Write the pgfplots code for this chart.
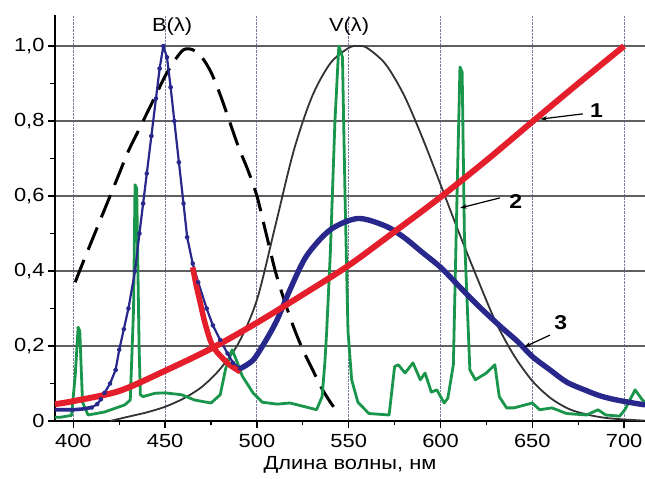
\documentclass[border=0pt]{standalone}
\usepackage{fontspec}
\setmainfont{Liberation Sans}[FakeStretch=1.15]
\usepackage{pgfplots}
\pgfplotsset{compat=1.18}
\usetikzlibrary{calc,arrows.meta}
\definecolor{cred}{RGB}{228,30,42}
\definecolor{cblue}{RGB}{40,40,140}
\definecolor{cgreen}{RGB}{25,150,75}
\definecolor{cgridv}{RGB}{120,125,160}
\definecolor{cgridh}{RGB}{95,95,95}
\begin{document}
\begin{tikzpicture}
\begin{axis}[
  scale only axis, width=590pt, height=406pt,
  xmin=390, xmax=711.4, ymin=0, ymax=1.0827,
  axis x line=bottom, axis y line=left,
  axis line style={-, line width=1.8pt, black},
  xtick={400,450,...,700},
  ytick={0,0.2,0.4,0.6,0.8,1.0},
  yticklabels={0,{0,2},{0,4},{0,6},{0,8},{1,0}},
  minor x tick num=1, minor y tick num=1,
  tick align=outside,
  major tick length=7pt, minor tick length=4.5pt,
  every tick/.style={black, line width=1.3pt},
  /pgf/number format/assume math mode=true,
  /pgf/number format/1000 sep={},
  tick label style={font=\fontsize{19}{22}\selectfont},
  xticklabel style={yshift=-3pt},
  xmajorgrids, ymajorgrids,
  x grid style={cgridv, densely dotted, line width=1pt},
  y grid style={cgridh, line width=1.1pt},
  xlabel={Длина волны, нм},
  xlabel style={font=\fontsize{19}{22}\selectfont, yshift=-2pt},
  clip=false,
]
% V(lambda)
\addplot[black!80, line width=1.8pt, smooth] coordinates {
(420,0.0) (430,0.0116) (440,0.023) (450,0.038) (460,0.06) (470,0.091) (480,0.139)
(490,0.208) (500,0.323) (510,0.52) (520,0.72) (530,0.865) (540,0.954) (550,0.995)
(555,1.0) (560,0.995) (570,0.952) (580,0.870) (590,0.757) (600,0.631) (610,0.503)
(620,0.381) (630,0.265) (640,0.175) (650,0.107) (660,0.061) (670,0.032) (680,0.017)
(690,0.0082) (700,0.0041) (711,0.001)};
% B(lambda)
\addplot[black, line width=3pt, dash pattern=on 24pt off 11pt, smooth] coordinates {
(401,0.37) (405,0.42) (410,0.48) (415,0.54) (420,0.60) (425,0.66) (430,0.72)
(435,0.77) (440,0.82) (445,0.87) (450,0.92) (455,0.96) (460,0.99) (465,0.99)
(470,0.97) (475,0.93) (480,0.87) (485,0.80) (490,0.73) (495,0.67) (500,0.60)
(505,0.50) (510,0.40) (515,0.32) (520,0.25) (525,0.19) (530,0.14) (535,0.09)
(540,0.05) (543,0.03)};
% green spectrum
\addplot[cgreen, line width=2.8pt, line join=round] coordinates {
(390,0.01) (393,0.01) (399,0.015) (401,0.12) (402.6,0.25) (403.5,0.24) (405,0.05)
(408,0.016) (417,0.024) (428,0.043) (431,0.056) (432.8,0.3) (433.6,0.63) (434.5,0.62)
(435.8,0.2) (436.5,0.07) (438,0.065) (444.5,0.074) (450,0.075) (459,0.07) (466,0.056)
(475,0.048) (480,0.07) (483,0.14) (486.5,0.19) (489,0.16) (492,0.12) (498,0.074)
(503,0.05) (511,0.045) (518,0.048) (527,0.037) (532.5,0.03) (535.5,0.065) (537,0.155)
(538,0.24) (540,0.45) (542.5,0.8) (544.6,1.0) (546.6,0.97) (548,0.6) (549.6,0.24)
(551.6,0.11) (555,0.05) (561,0.02) (572,0.016) (575,0.145) (577,0.15) (580.7,0.128)
(585,0.155) (589,0.11) (591.6,0.128) (595,0.077) (598,0.083) (602,0.048) (604,0.061)
(607,0.15) (609,0.6) (610.6,0.944) (611.8,0.93) (613,0.5) (616,0.136) (619,0.11)
(625,0.128) (629.6,0.15) (632,0.065) (636,0.035) (640,0.035) (650,0.048) (654,0.03)
(660.7,0.035) (668.6,0.02) (679.6,0.016) (685.8,0.03) (690,0.016) (697.6,0.013)
(700.4,0.03) (706,0.083) (710,0.056) (711.4,0.05)};
% curve 3: blue peak
\addplot[cblue, line width=2.2pt, line join=round, mark=*, mark size=1.4pt, mark repeat=1] coordinates {
(410,0.036) (413,0.045) (415,0.058)
(417,0.075) (420,0.10) (423,0.136) (425,0.19) (427.5,0.245) (430,0.30) (433.6,0.40)
(436,0.50) (438,0.58) (440,0.66) (442.5,0.76) (445,0.86) (447,0.94) (449,1.0)
(451,0.97) (453,0.89) (455,0.80) (457.5,0.69) (460,0.58) (462,0.49) (465,0.42)
(468,0.37) (472.6,0.30) (476,0.255) (480,0.216) (484,0.18) (487,0.155) (491,0.14)};
\addplot[cblue, line width=3.6pt] coordinates {(390,0.03) (400,0.03) (405,0.032) (410,0.036)};
% curve 3: broad part
\addplot[cblue, line width=5.4pt, smooth] coordinates {
(491,0.14) (498,0.163) (505,0.216) (511,0.27) (518,0.35) (527,0.44) (540,0.51)
(555,0.54) (570,0.52) (580,0.49) (590,0.45) (600,0.41) (610,0.36) (620,0.31)
(632,0.255) (642,0.212) (650,0.172) (660,0.135) (669,0.103) (680,0.08) (687,0.067)
(695,0.057) (705,0.048) (711.4,0.043)};
% curve 1: red
\addplot[cred, line width=6pt, smooth] coordinates {
(390,0.045) (400,0.053) (425,0.08) (450,0.134) (475,0.193) (500,0.262) (525,0.337)
(550,0.415) (575,0.505) (600,0.597) (625,0.695) (650,0.798) (675,0.90) (700,1.0)};
\addplot[cred, line width=5.5pt, smooth] coordinates {
(465,0.41) (467,0.36) (469,0.318) (471.5,0.265) (474.5,0.216) (477,0.192) (480,0.174)
(485.3,0.149) (491,0.131)};
% labels
\node[font=\fontsize{19}{22}\selectfont] at (axis cs:453.8,1.051) {B(λ)};
\node[font=\fontsize{19}{22}\selectfont] at (axis cs:550.2,1.051) {V(λ)};
\node[font=\fontsize{20}{22}\selectfont\bfseries] at (axis cs:685,0.829) {1};
\node[font=\fontsize{20}{22}\selectfont\bfseries] at (axis cs:641,0.584) {2};
\node[font=\fontsize{20}{22}\selectfont\bfseries] at (axis cs:665.5,0.261) {3};
\draw[-{Stealth[length=7pt,width=4.5pt]}, line width=1.2pt] (axis cs:677.5,0.819) -- (axis cs:654.2,0.805);
\draw[-{Stealth[length=7pt,width=4.5pt]}, line width=1.2pt] (axis cs:632.4,0.595) -- (axis cs:610.6,0.568);
\draw[-{Stealth[length=7pt,width=4.5pt]}, line width=1.2pt] (axis cs:659.6,0.229) -- (axis cs:645.5,0.197);
\end{axis}
\pgfresetboundingbox
\path[use as bounding box] ($(current axis.south west)+(-55pt,-58pt)$) rectangle ($(current axis.north east)+(0,15pt)$);
\end{tikzpicture}
\end{document}
